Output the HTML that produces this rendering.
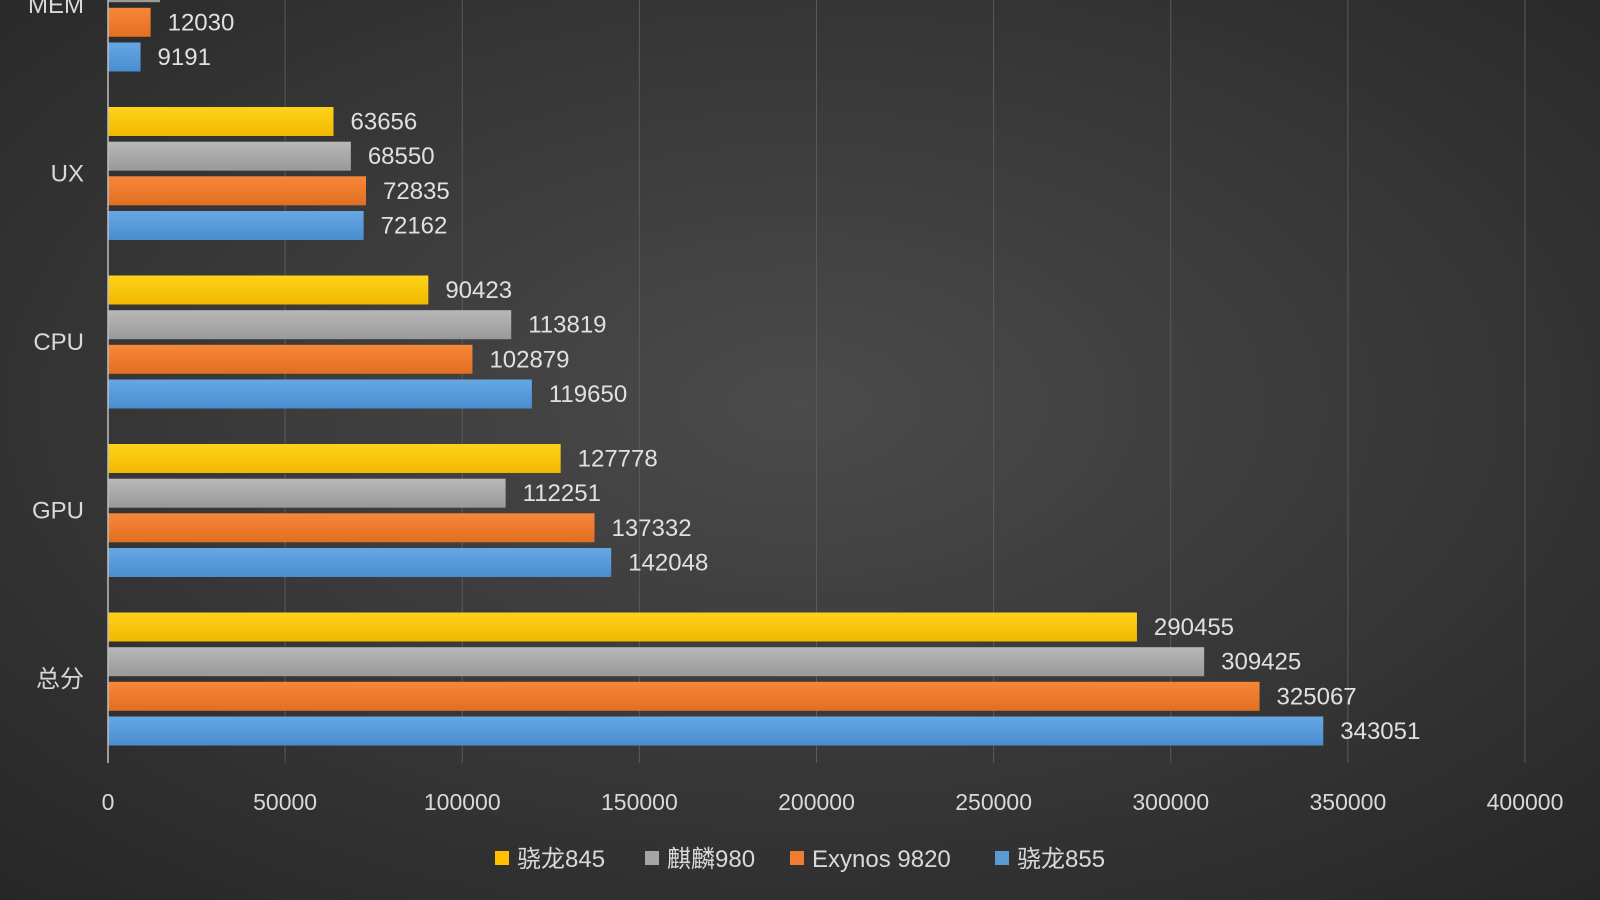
<!DOCTYPE html>
<html><head><meta charset="utf-8"><style>
html,body{margin:0;padding:0;width:1600px;height:900px;overflow:hidden;background:#333}
svg{display:block}
text{font-family:"Liberation Sans","Noto Sans CJK SC",sans-serif}
</style></head><body>
<svg id="chart" width="1600" height="900" viewBox="0 0 1600 900">
<defs>
<radialGradient id="bg" cx="50%" cy="45%" r="75%">
<stop offset="0" stop-color="#4b4b4b"/><stop offset="1" stop-color="#262626"/>
</radialGradient>
<linearGradient id="gy" x1="0" y1="0" x2="0" y2="1"><stop offset="0" stop-color="#ffd21a"/><stop offset="1" stop-color="#f2b800"/></linearGradient>
<linearGradient id="gg" x1="0" y1="0" x2="0" y2="1"><stop offset="0" stop-color="#b8b8b8"/><stop offset="1" stop-color="#999"/></linearGradient>
<linearGradient id="go" x1="0" y1="0" x2="0" y2="1"><stop offset="0" stop-color="#f8873a"/><stop offset="1" stop-color="#e06f22"/></linearGradient>
<linearGradient id="gb" x1="0" y1="0" x2="0" y2="1"><stop offset="0" stop-color="#66a8e4"/><stop offset="1" stop-color="#4a8dd0"/></linearGradient>
</defs>
<rect width="1600" height="900" fill="url(#bg)"/>
<g id="grid"></g><g id="bars"></g><g id="axis"></g><g id="legend"></g>
</svg>
<script>
const categories = ["总分","GPU","CPU","UX","MEM"];
const seriesNames = ["骁龙845","麒麟980","Exynos 9820","骁龙855"];
const s845 = [290455,127778,90423,63656,13200];
const kirin980 = [309425,112251,113819,68550,14700];
const exynos9820 = [325067,137332,102879,72835,12030];
const sd855 = [343051,142048,119650,72162,9191];
const xTicks = [0,50000,100000,150000,200000,250000,300000,350000,400000];

const NS="http://www.w3.org/2000/svg";
function mk(tag,attrs,parent){const e=document.createElementNS(NS,tag);for(const k in attrs)e.setAttribute(k,attrs[k]);parent.appendChild(e);return e;}
const x0=108,x1=1525,xMax=400000;
const xs=v=>x0+(x1-x0)*v/xMax;
const catY=i=>679-i*168.5;
const fills=["url(#gy)","url(#gg)","url(#go)","url(#gb)"];
const legendColors=["#ffc000","#a5a5a5","#ed7d31","#5b9bd5"];
const series=[s845,kirin980,exynos9820,sd855];
const offs=[-52,-17.3,17.3,52];
const grid=document.getElementById('grid'),bars=document.getElementById('bars'),axis=document.getElementById('axis'),legend=document.getElementById('legend');

xTicks.forEach(t=>{
  if(t>0){const l=mk('line',{x1:xs(t),x2:xs(t),y1:0,y2:763,stroke:'#5a5a5a','stroke-width':1},grid);
  
  }
  const tx=mk('text',{x:xs(t),y:810,'text-anchor':'middle','font-size':23,fill:'#d9d9d9'},axis);
  tx.textContent=t;
  
  
});
const ax=mk('line',{x1:x0,x2:x0,y1:0,y2:763,stroke:'#bfbfbf','stroke-width':1.5},axis);



categories.forEach((c,i)=>{
  const cy=catY(i);
  const ct=mk('text',{x:84,y:cy+8,'text-anchor':'end','font-size':24,fill:'#d9d9d9'},axis);
  ct.textContent=c;
  
  
  series.forEach((s,j)=>{
    const v=s[i],yc=cy+offs[j];
    const r=mk('rect',{x:x0,y:yc-14.5,width:xs(v)-x0,height:29,fill:fills[j]},bars);
    
    
    const t=mk('text',{x:xs(v)+17,y:yc+8,'font-size':24,fill:'#e0e0e0'},bars);
    t.textContent=v;
    
    
  });
});

let lx=495;
const lw=[150,145,205,140];
seriesNames.forEach((n,j)=>{
  const g=mk('g',{},legend);
  
  
  mk('rect',{x:lx,y:851,width:14,height:14,fill:legendColors[j]},g);
  const t=mk('text',{x:lx+22,y:867,'font-size':24,fill:'#d9d9d9'},g);
  t.textContent=n;
  lx+=lw[j];
});
</script>
</body></html>
